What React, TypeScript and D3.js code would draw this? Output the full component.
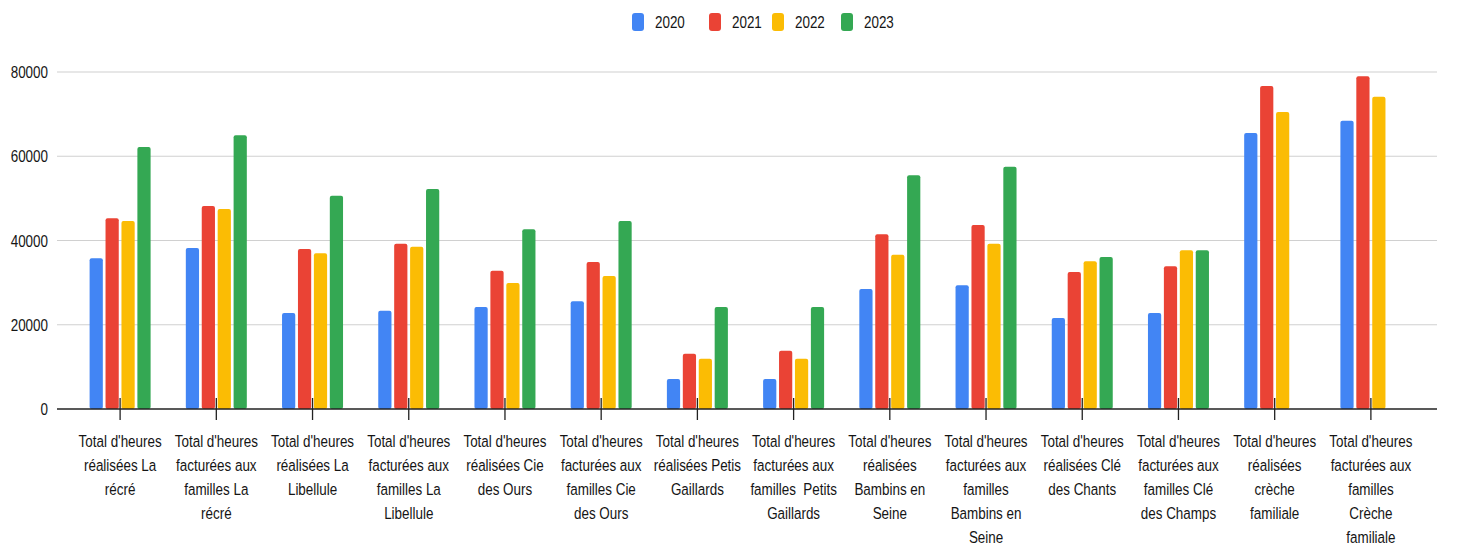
import React from "react";
import * as d3 from "d3";

// categories (label lines as shown under each tick)
const categories: string[][] = [
  ["Total d'heures", "réalisées La", "récré"],
  ["Total d'heures", "facturées aux", "familles La", "récré"],
  ["Total d'heures", "réalisées La", "Libellule"],
  ["Total d'heures", "facturées aux", "familles La", "Libellule"],
  ["Total d'heures", "réalisées Cie", "des Ours"],
  ["Total d'heures", "facturées aux", "familles Cie", "des Ours"],
  ["Total d'heures", "réalisées Petis", "Gaillards"],
  ["Total d'heures", "facturées aux", "familles  Petits", "Gaillards"],
  ["Total d'heures", "réalisées", "Bambins en", "Seine"],
  ["Total d'heures", "facturées aux", "familles", "Bambins en", "Seine"],
  ["Total d'heures", "réalisées Clé", "des Chants"],
  ["Total d'heures", "facturées aux", "familles Clé", "des Champs"],
  ["Total d'heures", "réalisées", "crèche", "familiale"],
  ["Total d'heures", "facturées aux", "familles", "Crèche", "familiale"],
];

const years = ["2020", "2021", "2022", "2023"];

const values2020 = [35800, 38200, 22800, 23300, 24200, 25600, 7100, 7100, 28500, 29400, 21600, 22800, 65500, 68400];
const values2021 = [45300, 48200, 38000, 39200, 32800, 34900, 13100, 13800, 41500, 43700, 32500, 33900, 76700, 79000];
const values2022 = [44600, 47500, 37000, 38500, 29900, 31600, 11900, 11900, 36600, 39200, 35100, 37700, 70500, 74100];
const values2023 = [62200, 65000, 50600, 52200, 42700, 44600, 24200, 24200, 55500, 57500, 36100, 37700, null, null];

const yTicks = [0, 20000, 40000, 60000, 80000];

const series = [values2020, values2021, values2022, values2023];
const colors = ["#4285F4", "#EA4335", "#FBBC04", "#34A853"];

const W = 1477;
const H = 550;
const SX = 0.79; // text looks horizontally squeezed in the reference
const FS = 17;

export default function App() {
  const x = d3
    .scaleBand<number>()
    .domain(d3.range(categories.length))
    .range([72, 1419]);
  const xi = d3
    .scaleBand<string>()
    .domain(years)
    .range([-30.5, 30.5])
    .paddingInner(0.17);
  const y = d3.scaleLinear().domain([0, 80000]).range([409, 72]);

  const gridX0 = 57;
  const gridX1 = 1437;
  const font = "'Liberation Sans', Arial, sans-serif";
  const ink = "#151515";

  const legendX = [632, 709, 772, 841];

  return (
    <svg
      width={W}
      height={H}
      style={{ position: "absolute", left: 0, top: 0, background: "#fff" }}
      fontFamily={font}
    >
      {/* legend */}
      {years.map((yr, i) => (
        <g key={yr}>
          <rect x={legendX[i]} y={13} width={12} height={18} rx={3} fill={colors[i]} />
          <text
            transform={`translate(${legendX[i] + 23},28) scale(${SX},1)`}
            fontSize={FS}
            fill={ink}
          >
            {yr}
          </text>
        </g>
      ))}

      {/* grid + y labels */}
      {yTicks.map((t) => (
        <g key={t}>
          {t !== 0 && (
            <line x1={gridX0} x2={gridX1} y1={y(t)} y2={y(t)} stroke="#d0d0d0" strokeWidth={1.2} />
          )}
          <text
            transform={`translate(48,${y(t) + 6}) scale(${SX},1)`}
            fontSize={FS}
            textAnchor="end"
            fill={ink}
          >
            {t}
          </text>
        </g>
      ))}

      {/* bars */}
      {categories.map((_, ci) => {
        const cx = (x(ci) as number) + x.bandwidth() / 2;
        return (
          <g key={ci} transform={`translate(${cx},0)`}>
            {series.map((s, si) => {
              const v = s[ci];
              if (v == null) return null;
              const top = y(v);
              return (
                <rect
                  key={si}
                  x={xi(years[si]) as number}
                  y={top}
                  width={xi.bandwidth()}
                  height={y(0) - top}
                  rx={2}
                  fill={colors[si]}
                />
              );
            })}
          </g>
        );
      })}

      {/* baseline */}
      <line x1={gridX0} x2={gridX1} y1={y(0)} y2={y(0)} stroke="#222" strokeWidth={1.5} />

      {/* ticks + labels */}
      {categories.map((lines, ci) => {
        const cx = (x(ci) as number) + x.bandwidth() / 2;
        return (
          <g key={ci}>
            <line x1={cx} x2={cx} y1={398} y2={420} stroke="#222" strokeWidth={1.3} />
            <text
              transform={`translate(${cx},447) scale(${SX},1)`}
              fontSize={FS}
              textAnchor="middle"
              fill={ink}
            >
              {lines.map((l, li) => (
                <tspan key={li} x={0} dy={li === 0 ? 0 : 24} xmlSpace="preserve">
                  {l}
                </tspan>
              ))}
            </text>
          </g>
        );
      })}
    </svg>
  );
}
